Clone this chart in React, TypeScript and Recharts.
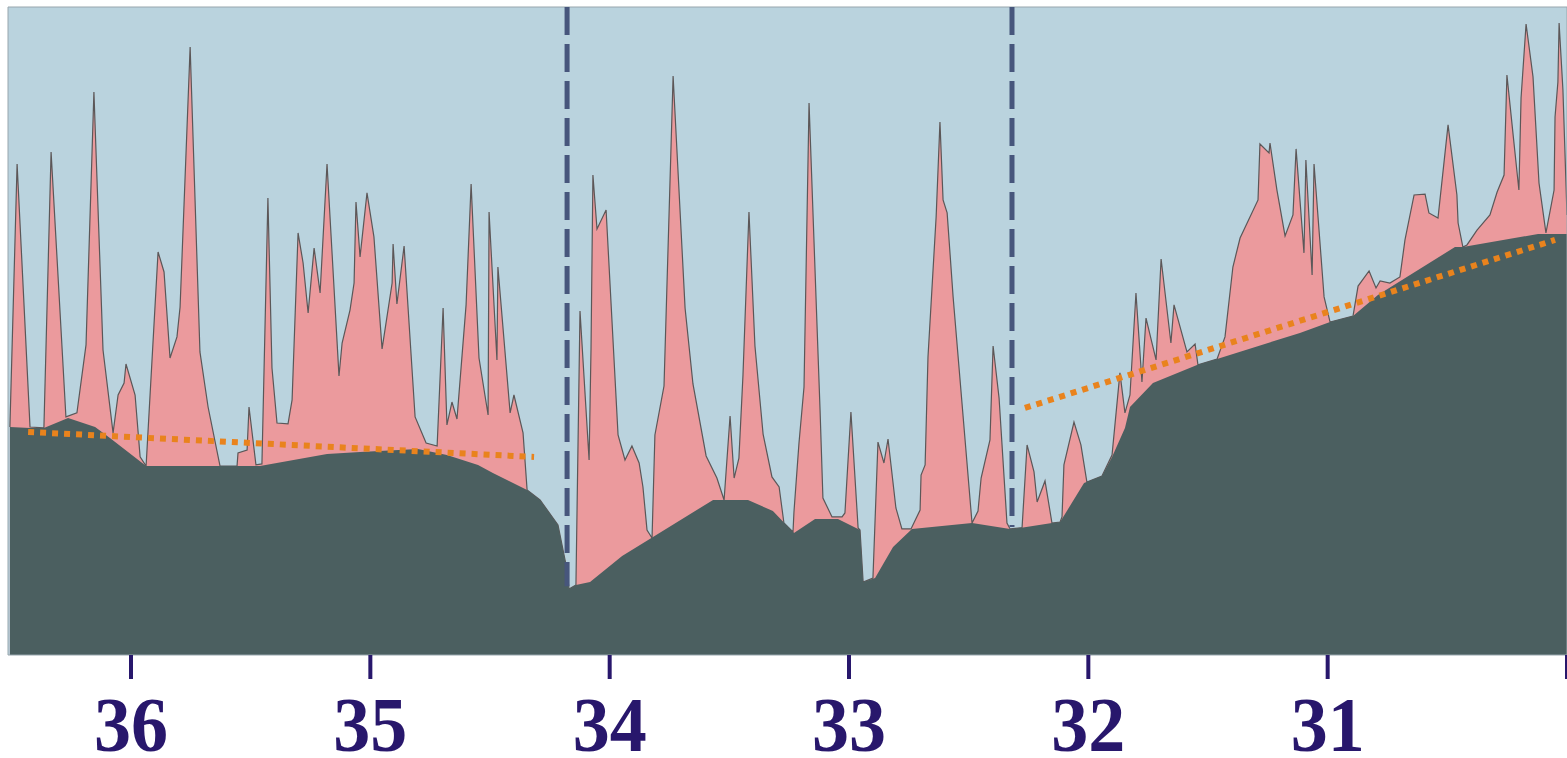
import React from "react";
import { ComposedChart, Area, Line, XAxis, YAxis, CartesianGrid, ReferenceArea } from "recharts";

// Swath profile along latitude (°N): maximum elevation envelope (pink) over the minimum elevation floor (slate).
const upperLat = [
  36.506, 36.476, 36.422, 36.364, 36.334, 36.272, 36.226, 36.188, 36.155, 36.117,
  36.075, 36.054, 36.029, 36.021, 35.983, 35.962, 35.937, 35.887, 35.862, 35.837,
  35.808, 35.795, 35.753, 35.712, 35.678, 35.628, 35.557, 35.553, 35.515, 35.507,
  35.478, 35.453, 35.428, 35.411, 35.39, 35.344, 35.327, 35.302, 35.281, 35.26,
  35.235, 35.21, 35.181, 35.131, 35.118, 35.085, 35.068, 35.06, 35.043, 35.014,
  34.985, 34.951, 34.909, 34.905, 34.889, 34.859, 34.813, 34.767, 34.721, 34.696,
  34.68, 34.659, 34.638, 34.6, 34.579, 34.546, 34.508, 34.504, 34.471, 34.467,
  34.416, 34.4, 34.362, 34.345, 34.291, 34.216, 34.178, 34.17,
  34.141, 34.124, 34.086, 34.078, 34.07, 34.053, 34.015, 33.965, 33.936, 33.907,
  33.877, 33.861, 33.844, 33.823, 33.811, 33.773, 33.735, 33.685, 33.652, 33.597,
  33.552, 33.522, 33.497, 33.48, 33.46, 33.443, 33.418, 33.393, 33.359, 33.322,
  33.292, 33.272, 33.234, 33.23, 33.209, 33.188, 33.167, 33.121, 33.109, 33.071,
  33.029, 33.017, 32.992, 32.962, 32.954, 32.941,
  32.9, 32.879, 32.854, 32.837, 32.804, 32.779, 32.741, 32.703, 32.699, 32.682,
  32.67, 32.636, 32.62, 32.607, 32.59, 32.565, 32.486, 32.461, 32.448, 32.411,
  32.398, 32.373, 32.34, 32.327, 32.286,
  32.277, 32.256, 32.227, 32.214, 32.181, 32.152, 32.118, 32.11, 32.102, 32.06,
  32.031, 32.006, 31.943, 31.901, 31.868, 31.847, 31.826, 31.801, 31.776, 31.759,
  31.717, 31.696, 31.655, 31.642, 31.588, 31.554, 31.542, 31.462, 31.429, 31.396,
  31.366, 31.291, 31.283, 31.245, 31.241, 31.212, 31.178, 31.145, 31.132, 31.099,
  31.091, 31.065, 31.057, 31.015, 30.99, 30.894, 30.873, 30.827, 30.798, 30.781,
  30.74, 30.698, 30.677, 30.639, 30.593, 30.577, 30.539, 30.497, 30.46, 30.455,
  30.435, 30.418, 30.376, 30.322, 30.292, 30.263, 30.251, 30.226, 30.201, 30.192,
  30.171, 30.142, 30.117, 30.088, 30.054, 30.05, 30.038, 30.033, 30.017, 30.0,
];
const upperElev = [
  1.425, 3.069, 1.425, 1.419, 3.144, 1.488, 1.513, 1.938, 3.519, 1.906,
  1.388, 1.625, 1.7, 1.819, 1.625, 1.238, 1.181, 2.519, 2.394, 1.856,
  1.988, 2.175, 3.8, 1.894, 1.55, 1.181, 1.181, 1.263, 1.281, 1.55,
  1.188, 1.194, 2.856, 1.794, 1.45, 1.444, 1.594, 2.638, 2.45, 2.138,
  2.544, 2.263, 3.069, 1.744, 1.95, 2.156, 2.325, 2.831, 2.488, 2.888,
  2.613, 1.913, 2.325, 2.569, 2.194, 2.556, 1.488, 1.325, 1.306, 2.169,
  1.438, 1.581, 1.475, 2.188, 2.944, 1.856, 1.5, 2.769, 1.844, 2.425,
  1.513, 1.625, 1.388, 1.031, 0.969, 0.813, 0.531, 0.413,
  0.438, 2.15, 1.219, 1.913, 3.0, 2.663, 2.781, 1.375, 1.219, 1.306,
  1.2, 1.05, 0.781, 0.731, 1.375, 1.681, 3.619, 2.169, 1.694, 1.244,
  1.106, 0.969, 1.494, 1.106, 1.231, 1.75, 2.769, 1.931, 1.381, 1.113,
  1.05, 0.825, 0.769, 0.894, 1.325, 1.675, 3.45, 1.531, 0.981, 0.863,
  0.863, 0.888, 1.519, 0.794, 0.781, 0.456,
  0.481, 1.331, 1.2, 1.35, 0.919, 0.788, 0.788, 0.906, 1.125, 1.188,
  1.863, 2.738, 3.331, 2.844, 2.763, 2.238, 0.825, 0.9, 1.106, 1.344,
  1.931, 1.606, 0.825, 0.788, 0.794,
  0.794, 1.313, 1.144, 0.956, 1.088, 0.825, 0.831, 0.863, 1.188, 1.456,
  1.313, 1.081, 1.119, 1.25, 1.763, 1.513, 1.625, 2.263, 1.706, 2.106,
  1.844, 2.475, 1.95, 2.188, 1.894, 1.944, 1.813, 1.85, 1.988, 2.425,
  2.606, 2.844, 3.194, 3.138, 3.2, 2.906, 2.619, 2.75, 3.163, 2.513,
  3.094, 2.375, 3.069, 2.238, 2.081, 2.119, 2.306, 2.4, 2.294, 2.338,
  2.325, 2.363, 2.594, 2.875, 2.881, 2.763, 2.731, 3.313, 2.875, 2.7,
  2.55, 2.563, 2.656, 2.75, 2.894, 3.0, 3.625, 3.263, 2.906, 3.481,
  3.944, 3.613, 2.95, 2.638, 2.906, 3.363, 3.581, 3.95, 3.531, 2.75,
];

const lowerLat = [
  36.506, 36.422, 36.364, 36.263, 36.15, 36.088, 35.937, 35.461, 35.181, 35.043,
  34.801, 34.68, 34.55, 34.488, 34.345, 34.291, 34.216, 34.178, 34.17, 34.141,
  34.082, 33.948, 33.819, 33.568, 33.422, 33.318, 33.23, 33.142, 33.046, 32.954,
  32.941, 32.891, 32.816, 32.737, 32.486, 32.327, 32.286, 32.152, 32.118, 32.018,
  31.943, 31.901, 31.847, 31.826, 31.73, 31.546, 31.462, 31.116, 30.99, 30.894,
  30.79, 30.468, 30.435, 30.121, 30.0,
];
const lowerElev = [
  1.425, 1.419, 1.419, 1.481, 1.425, 1.356, 1.181, 1.181, 1.256, 1.269,
  1.288, 1.25, 1.188, 1.138, 1.031, 0.969, 0.813, 0.531, 0.413, 0.438,
  0.456, 0.619, 0.738, 0.969, 0.969, 0.9, 0.763, 0.85, 0.85, 0.781,
  0.456, 0.481, 0.675, 0.788, 0.825, 0.788, 0.794, 0.825, 0.831, 1.075,
  1.119, 1.238, 1.419, 1.55, 1.7, 1.813, 1.85, 2.013, 2.081, 2.119,
  2.25, 2.55, 2.55, 2.631, 2.631,
];

// Linear trends fitted to the northern and southern segments
const northTrendLat = [36.43, 34.316];
const northTrendElev = [1.394, 1.238];
const southTrendLat = [32.265, 30.05];
const southTrendElev = [1.544, 2.594];

// Segment boundaries
const boundaryLat = [34.178, 32.319];
const boundaryFoot = [0.43, 0.8];

const xTicks = [36, 35, 34, 33, 32, 31, 30];
const yTicks = [0, 1, 2, 3];
const X_MIN = 30;
const X_MAX = 36.514;
const Y_MAX = 4.05;

const zip = (xs: number[], ys: number[]) => xs.map((lat, i) => ({ lat, elev: ys[i] }));

const upperData = zip(upperLat, upperElev);
const lowerData = zip(lowerLat, lowerElev);
const northTrend = zip(northTrendLat, northTrendElev);
const southTrend = zip(southTrendLat, southTrendElev);
const boundaries = boundaryLat.map((lat, i) => [
  { lat, elev: Y_MAX },
  { lat, elev: boundaryFoot[i] },
]);

const NAVY = "#28176c";

const LatTick = (props: any) => {
  const { x, y, payload } = props;
  if (payload.value === 30) return null;
  return (
    <text
      x={0}
      y={0}
      transform={`translate(${x}, ${y + 72}) scale(0.95, 1)`}
      textAnchor="middle"
      fill={NAVY}
      fontFamily="'Liberation Serif', 'Times New Roman', serif"
      fontWeight="bold"
      fontSize={78}
    >
      {payload.value}
    </text>
  );
};

export default function App() {
  return (
    <div
      style={{
        position: "absolute",
        left: 0,
        top: 0,
        width: 1567,
        height: 758,
        overflow: "hidden",
        background: "#ffffff",
      }}
    >
      <ComposedChart width={1567} height={758} margin={{ top: 7, right: 0, bottom: 0, left: 0 }}>
        <CartesianGrid horizontal={false} vertical={false} fill="#bad3de" />
        <XAxis
          type="number"
          dataKey="lat"
          domain={[X_MIN, X_MAX]}
          reversed
          allowDataOverflow
          ticks={xTicks}
          interval={0}
          height={103}
          axisLine={false}
          tickSize={24}
          tickMargin={0}
          tickLine={{ stroke: NAVY, strokeWidth: 4 }}
          tick={<LatTick />}
        />
        <YAxis
          type="number"
          dataKey="elev"
          domain={[0, Y_MAX]}
          allowDataOverflow
          ticks={yTicks}
          width={8}
          axisLine={false}
          tickSize={10}
          tick={false}
          tickLine={{ stroke: NAVY, strokeWidth: 5 }}
        />
        <Area
          data={upperData}
          dataKey="elev"
          type="linear"
          fill="#eb9a9d"
          fillOpacity={1}
          stroke="#5b5758"
          strokeWidth={1.2}
          isAnimationActive={false}
          dot={false}
          activeDot={false}
        />
        <Area
          data={lowerData}
          dataKey="elev"
          type="linear"
          fill="#4b5f60"
          fillOpacity={1}
          stroke="none"
          isAnimationActive={false}
          dot={false}
          activeDot={false}
        />
        {boundaries.map((seg, i) => (
          <Line
            key={`b${i}`}
            data={seg}
            dataKey="elev"
            type="linear"
            stroke="#47567c"
            strokeWidth={5}
            strokeDasharray="28 9"
            dot={false}
            activeDot={false}
            isAnimationActive={false}
          />
        ))}
        <Line
          data={northTrend}
          dataKey="elev"
          type="linear"
          stroke="#e9831d"
          strokeWidth={6}
          strokeDasharray="6 6"
          dot={false}
          activeDot={false}
          isAnimationActive={false}
        />
        <Line
          data={southTrend}
          dataKey="elev"
          type="linear"
          stroke="#e9831d"
          strokeWidth={6}
          strokeDasharray="6 6"
          dot={false}
          activeDot={false}
          isAnimationActive={false}
        />
        <ReferenceArea
          x1={X_MIN}
          x2={X_MAX}
          y1={0}
          y2={Y_MAX}
          fill="none"
          stroke="#97a6ad"
          strokeWidth={1}
          ifOverflow="visible"
        />
      </ComposedChart>
    </div>
  );
}
